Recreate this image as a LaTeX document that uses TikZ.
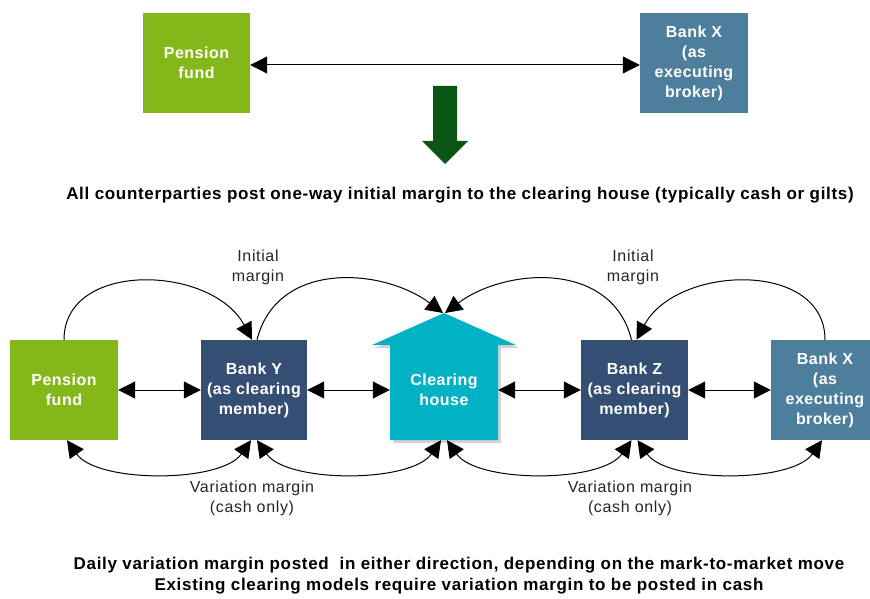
\documentclass[tikz,border=0pt]{standalone}
\usepackage{fontspec}
\setmainfont{Liberation Sans}
\usetikzlibrary{arrows.meta,shadows}

\definecolor{pfgreen}{HTML}{84B81A}
\definecolor{navy}{HTML}{344E74}
\definecolor{steel}{HTML}{4D7E9C}
\definecolor{chcyan}{HTML}{00B2C3}
\definecolor{dgreen}{HTML}{0A5414}

\tikzset{
  party/.style={rectangle, inner sep=0pt, text=white, align=center,
    font=\fontsize{16}{20}\selectfont\bfseries\addfontfeature{LetterSpace=3}},
  lbl/.style={align=center, text=black!85,
    font=\fontsize{16}{20}\selectfont\addfontfeature{LetterSpace=4}},
  caption/.style={align=center,
    font=\fontsize{17}{21}\selectfont\bfseries\addfontfeature{LetterSpace=4}},
  link/.style={line width=1pt, {Triangle[length=17pt,width=17pt]}-{Triangle[length=17pt,width=17pt]}},
  onearrow/.style={line width=1pt, -{Triangle[length=17pt,width=17pt]}},
}

\begin{document}
\begin{tikzpicture}[x=1pt,y=1pt]
  \useasboundingbox (0,0) rectangle (870,598);

  % bilateral trade
  \node[party, fill=pfgreen, minimum width=107pt, minimum height=100pt] (pf1) at (196.5,535) {Pension\\fund};
  \node[party, fill=steel, minimum width=108pt, minimum height=100pt] (bx1) at (694,535) {Bank X\\(as\\executing\\broker)};
  \draw[link] ([yshift=-2pt]pf1.east) -- ([yshift=-2pt]bx1.west);

  \fill[dgreen] (433,512) -- (457,512) -- (457,457) -- (468,457) -- (445,434)
    -- (422,457) -- (433,457) -- cycle;
  \node[caption] (cap1) at (460,403) {All counterparties post one-way initial margin to the clearing house (typically cash or gilts)};

  % cleared trade
  \node[party, fill=pfgreen, minimum width=108pt, minimum height=100pt] (pf2) at (64,208) {Pension\\fund};
  \node[party, fill=navy, minimum width=106pt, minimum height=100pt] (bY) at (254,208) {Bank Y\\(as clearing\\member)};
  \node[party, fill=navy, minimum width=107pt, minimum height=100pt] (bZ) at (634.5,208) {Bank Z\\(as clearing\\member)};
  \node[party, fill=steel, minimum width=108pt, minimum height=100pt] (bx2) at (825,208) {Bank X\\(as\\executing\\broker)};

  \fill[chcyan, drop shadow={shadow xshift=3pt, shadow yshift=-3pt, opacity=0.35}]
    (390,158) -- (390,253) -- (372,253) -- (444,285) -- (516,253) -- (498,253) -- (498,158) -- cycle;
  \node[party, minimum width=108pt, minimum height=100pt] (ch) at (444,208) {Clearing\\house};
  \coordinate (chtop) at (444,285);

  \draw[link] (pf2.east) -- (bY.west);
  \draw[link] (bY.east) -- (ch.west);
  \draw[link] (ch.east) -- (bZ.west);
  \draw[link] (bZ.east) -- (bx2.west);

  % initial margin
  \draw[onearrow] (pf2.north) .. controls +(0,80) and +(-40,75) .. ([xshift=-2pt]bY.north);
  \draw[onearrow] ([xshift=3pt]bY.north) .. controls +(20,80) and +(-60,45) .. ([xshift=-1pt]chtop);
  \draw[onearrow] ([xshift=-3pt]bZ.north) .. controls +(-20,80) and +(60,45) .. ([xshift=1pt]chtop);
  \draw[onearrow] (bx2.north) .. controls +(0,80) and +(40,75) .. ([xshift=2pt]bZ.north);
  \node[lbl] (im1) at (258,331) {Initial\\margin};
  \node[lbl] (im2) at (633,331) {Initial\\margin};

  % variation margin
  \draw[link] ([xshift=3pt]pf2.south) .. controls +(30,-43) and +(-30,-43) .. ([xshift=-3pt]bY.south);
  \draw[link] ([xshift=3pt]bY.south) .. controls +(30,-43) and +(-30,-43) .. ([xshift=-3pt]ch.south);
  \draw[link] ([xshift=3pt]ch.south) .. controls +(30,-43) and +(-30,-43) .. ([xshift=-3pt]bZ.south);
  \draw[link] ([xshift=3pt]bZ.south) .. controls +(30,-43) and +(-30,-43) .. ([xshift=-3pt]bx2.south);
  \node[lbl] (vm1) at (252,100) {Variation margin\\(cash only)};
  \node[lbl] (vm2) at (630,100) {Variation margin\\(cash only)};

  \node[caption] (cap2) at (459,22) {Daily variation margin posted~ in either direction, depending on the mark-to-market move\\Existing clearing models require variation margin to be posted in cash};
\end{tikzpicture}
\end{document}
